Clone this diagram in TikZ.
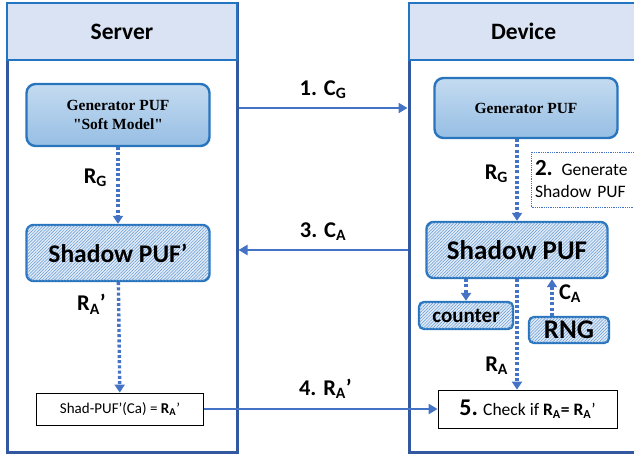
\documentclass[tikz,border=0pt]{standalone}
\usepackage{fontspec}
\setmainfont{Carlito}
\newfontfamily\timesfont{Liberation Serif}
\usetikzlibrary{arrows.meta}
\usetikzlibrary{patterns.meta}
\usetikzlibrary{shadings}

\definecolor{laneblue}{RGB}{50,88,160}
\definecolor{headline}{RGB}{36,116,196}
\definecolor{headblue}{RGB}{218,227,243}
\definecolor{boxblue}{RGB}{40,117,190}
\definecolor{gentop}{RGB}{196,219,240}
\definecolor{genbot}{RGB}{150,190,228}
\definecolor{hatchbg}{RGB}{226,236,248}
\definecolor{hatchline}{RGB}{96,150,210}
\definecolor{flowblue}{RGB}{68,114,196}

\begin{document}
\begin{tikzpicture}[x=1pt, y=-1pt,
    lane/.style={draw=laneblue, line width=3pt, minimum width=230pt, minimum height=449pt},
    head/.style={draw=headline, line width=2.4pt, fill=headblue, minimum width=230pt, minimum height=57pt, font=\bfseries\fontsize{23.5}{26}\selectfont},
    genbox/.style={draw=boxblue, line width=2.4pt, rounded corners=9pt, top color=gentop, bottom color=genbot, align=center, font=\timesfont\bfseries\fontsize{15.5}{19}\selectfont},
    hatchbox/.style={draw=boxblue, line width=2.4pt, rounded corners=7pt, fill=hatchbg, postaction={pattern={Lines[angle=45, distance=2.2pt, line width=0.5pt]}, pattern color=hatchline}, font=\bfseries},
    plainbox/.style={draw, line width=0.8pt, fill=white, font=\fontsize{15}{18}\selectfont},
    flow/.style={draw=flowblue, line width=2.6pt, -{Triangle[length=9pt, width=10pt]}},
    dotflow/.style={draw=flowblue, line width=3.4pt, dash pattern=on 3pt off 2.2pt, -{Triangle[length=8pt, width=10pt]}},
    lbl/.style={font=\bfseries\fontsize{22.5}{25}\selectfont}
]
\path[use as bounding box, clip] (0,0) rectangle (634,459);

    % Lanes
    \node[lane] (srvlane) at (122,227.5) {};
    \node[lane, minimum width=240pt] (devlane) at (529,227.5) {};
    \node[head] (srvhead) at (122,31.5) {Server};
    \node[head, minimum width=240pt, text width=220pt, align=left] (devhead) at (529,31.5) {\hspace*{72pt}Device};

    % Server nodes
    \node[genbox, minimum width=183pt, minimum height=62pt] (gensrv) at (118,115) {Generator PUF\\"Soft Model"};
    \node[hatchbox, minimum width=183pt, minimum height=56pt, font=\bfseries\fontsize{25.5}{30}\selectfont] (shsrv) at (118,253) {Shadow PUF’};
    \node[plainbox, minimum width=167pt, minimum height=32pt] (shad) at (120,409) {Shad-PUF’(Ca) = \textbf{R\textsubscript{A}}’};

    % Device nodes
    \node[genbox, minimum width=183pt, minimum height=60pt] (gendev) at (526,108) {Generator PUF};
    \node[hatchbox, minimum width=181pt, minimum height=56pt, font=\bfseries\fontsize{27}{30}\selectfont] (shdev) at (517,250) {Shadow PUF};
    \node[hatchbox, minimum width=94pt, minimum height=27pt, inner sep=0pt, rounded corners=5pt, font=\bfseries\fontsize{21}{22}\selectfont] (counter) at (466,315.5) {counter};
    \node[hatchbox, minimum width=80pt, minimum height=26pt, inner sep=0pt, rounded corners=5pt, font=\bfseries\fontsize{27}{27}\selectfont] (rng) at (569,330) {RNG};
    \node[plainbox, minimum width=179pt, minimum height=38pt, font=\fontsize{17.5}{20}\selectfont] (check) at (527.5,409) {{\bfseries\fontsize{24}{24}\selectfont 5.} Check if \textbf{R\textsubscript{A}= R\textsubscript{A}}’};
    \node[draw=flowblue, densely dotted, line width=0.8pt, minimum width=112pt, minimum height=55pt, text width=106pt, align=left, font=\fontsize{17.5}{22}\selectfont] (gennote) at (588,179.5) {{\bfseries\fontsize{23}{22}\selectfont 2.} Generate\\Shadow PUF};

    % Messages between server and device
    \draw[flow] (srvlane.east |- gendev.west) to node[lbl, above=5pt] {1. C\textsubscript{G}} (devlane.west |- gendev.west);
    \draw[flow] (devlane.west |- shdev.west) to node[lbl, above=5pt] {3. C\textsubscript{A}} (srvlane.east |- shdev.west);
    \draw[flow] (shad) to node[lbl, pos=0.52, above=6pt] {4. R\textsubscript{A}’} (check);

    % Local responses
    \draw[dotflow] (gensrv) to node[lbl, pos=0.4, left=6pt] {R\textsubscript{G}} (shsrv);
    \draw[dotflow] (shsrv) to node[lbl, pos=0.2, left=8pt] {R\textsubscript{A}’} (shad);
    \draw[dotflow] (gendev.south -| shdev.north) to node[lbl, pos=0.42, left=4pt] {R\textsubscript{G}} (shdev.north);
    \draw[dotflow] (shdev.south -| counter.north) -- (counter.north);
    \draw[dotflow] ([xshift=-17pt]rng.north) to node[lbl, pos=0.6, right=2pt] {C\textsubscript{A}} ([xshift=-17pt]rng.north |- shdev.south);
    \draw[dotflow] (shdev.south) to node[lbl, pos=0.78, left=4pt] {R\textsubscript{A}} (shdev.south |- check.north);

\end{tikzpicture}
\end{document}
